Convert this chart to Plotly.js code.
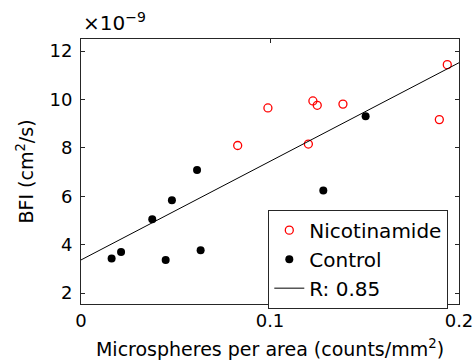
<!DOCTYPE html>
<html>
<head>
<meta charset="utf-8">
<script src="https://cdn.plot.ly/plotly-3.0.1.min.js"></script>
<style>html,body{margin:0;padding:0;background:#fff}#chart{width:474px;height:364px}</style>
</head>
<body>
<div id="chart"></div>
<script>
// Values of BFI in units of 1e-9 cm^2/s
const nicX = [0.0829, 0.0989, 0.1227, 0.1250, 0.1203, 0.1386, 0.1896, 0.1938];
const nicY = [8.10, 9.65, 9.94, 9.76, 8.16, 9.81, 9.17, 11.44];
const ctlX = [0.0162, 0.0212, 0.0377, 0.0448, 0.0481, 0.0614, 0.0633, 0.1282, 0.1506];
const ctlY = [3.43, 3.70, 5.05, 3.37, 5.84, 7.09, 3.77, 6.24, 9.31];
const fitX = [0, 0.2];
const fitY = [3.37, 11.52];
const xTicks = [0, 0.1, 0.2];
const xTickText = ['0', '0.1', '0.2'];
const yTicks = [2, 4, 6, 8, 10, 12];
const seriesNames = ['Nicotinamide', 'Control', 'R: 0.85'];

const fam = 'DejaVu Sans, sans-serif';
const tickFont = {family: fam, size: 18, color: '#000'};
const titleFont = {family: fam, size: 19, color: '#000'};
const axisColor = '#262626';

const traces = [
  {x: nicX, y: nicY, type: 'scatter', mode: 'markers', name: seriesNames[0], legendgroup: 'a',
   marker: {symbol: 'circle-open', size: 8, color: '#ff0000', line: {width: 1.3, color: '#ff0000'}}},
  {x: ctlX, y: ctlY, type: 'scatter', mode: 'markers', name: seriesNames[1], legendgroup: 'b',
   marker: {symbol: 'circle', size: 8, color: '#000'}},
  {x: fitX, y: fitY, type: 'scatter', mode: 'lines', name: seriesNames[2], legendgroup: 'c',
   line: {color: '#000', width: 1}}
];

const layout = {
  width: 474, height: 364,
  margin: {l: 80.7, r: 15.3, t: 38.7, b: 59.7, pad: 0},
  paper_bgcolor: '#fff', plot_bgcolor: '#fff',
  font: tickFont,
  showlegend: true,
  legend: {x: 0.4955, y: 0.356, xanchor: 'left', yanchor: 'top',
    bordercolor: axisColor, borderwidth: 1, bgcolor: '#fff',
    font: {family: fam, size: 20, color: '#000'},
    traceorder: 'grouped', tracegroupgap: 0, itemwidth: 30},
  xaxis: {range: [0, 0.2], tickvals: xTicks, ticktext: xTickText,
    showline: true, mirror: 'ticks', linecolor: axisColor, linewidth: 1,
    ticks: 'inside', ticklen: 4, tickcolor: axisColor, showgrid: false, zeroline: false,
    tickfont: tickFont,
    title: {text: 'Microspheres per area (counts/mm<sup>2</sup>)', font: titleFont, standoff: 13}},
  yaxis: {range: [1.55, 12.5], tickvals: yTicks,
    showline: true, mirror: 'ticks', linecolor: axisColor, linewidth: 1,
    ticks: 'inside', ticklen: 4, tickcolor: axisColor, showgrid: false, zeroline: false,
    tickfont: tickFont, ticklabelstandoff: 4,
    title: {text: 'BFI (cm<sup>2</sup>/s)', font: titleFont, standoff: 10}},
  annotations: [
    {text: '×10<sup>−9</sup>', xref: 'paper', yref: 'paper', x: 0, y: 1, xanchor: 'left', yanchor: 'bottom',
     yshift: 2, showarrow: false, font: {family: fam, size: 20, color: '#000'}}
  ]
};

Plotly.newPlot('chart', traces, layout, {displayModeBar: false, staticPlot: true});
</script>
</body>
</html>
